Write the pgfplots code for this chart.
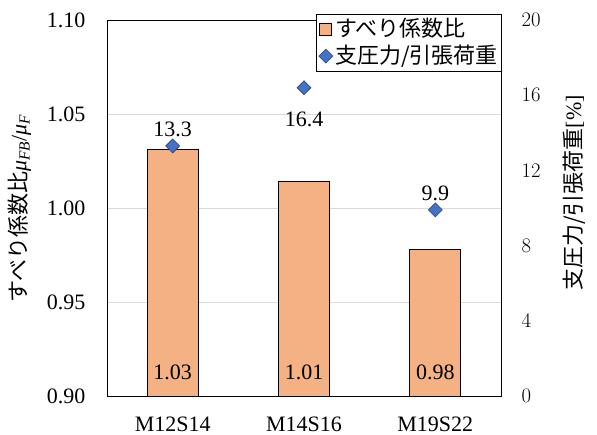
\documentclass[border=0pt]{standalone}
\usepackage{fontspec}
\setmainfont{Liberation Serif}
\newfontfamily\jp{Noto Sans CJK JP}
\usepackage{pgfplots}
\pgfplotsset{compat=1.18}
\definecolor{barfill}{RGB}{244,177,131}
\definecolor{dfill}{RGB}{68,114,196}
\definecolor{dline}{RGB}{38,68,120}
\newcommand{\fs}{\fontsize{22bp}{26bp}\selectfont}
\begin{document}
\fs
\begin{tikzpicture}
\useasboundingbox (0,0) rectangle (597bp,435bp);
\begin{axis}[
  at={(107bp,39bp)}, anchor=south west,
  width=394bp, height=376bp, scale only axis,
  xmin=-0.5, xmax=2.5, ymin=0.9, ymax=1.1,
  xtick={0,1,2}, xticklabels={M12S14,M14S16,M19S22},
  ytick={0.90,0.95,1.00,1.05,1.10},
  /pgf/number format/assume math mode=true,
  yticklabel={\pgfmathprintnumber[fixed,fixed zerofill,precision=2]{\tick}},
  ymajorgrids, grid style={black!15, line width=0.75bp},
  major tick length=0pt,
  axis line style={black, line width=0.9bp},
  tick label style={font=\fs},
  yticklabel style={xshift=-14bp},
  xticklabel style={yshift=-13bp},
  ylabel={{\jp すべり係数比}\textit{μ}\textsubscript{\textit{FB}}/\textit{μ}\textsubscript{\textit{F}}},
  ylabel style={at={(axis description cs:-0.222,0.5)}, anchor=center, font=\fs},
  clip=false,
]
\addplot[ybar, bar width=51bp, fill=barfill, draw=black, line width=0.75bp]
  coordinates {(0,1.031) (1,1.014) (2,0.978)};
\addplot[only marks, mark=none, nodes near coords, point meta=explicit symbolic,
  nodes near coords style={anchor=center, yshift=24bp, font=\fs}]
  coordinates {(0,0.9)[1.03] (1,0.9)[1.01] (2,0.9)[0.98]};
\end{axis}
\begin{axis}[
  at={(107bp,39bp)}, anchor=south west,
  width=394bp, height=376bp, scale only axis,
  xmin=-0.5, xmax=2.5, ymin=0, ymax=20,
  ytick={0,4,...,20},
  axis x line=none, axis y line*=right,
  major tick length=0pt,
  axis line style={black, line width=0.9bp},
  tick label style={font=\fs},
  yticklabel style={xshift=13bp},
  ylabel={{\jp 支圧力/引張荷重}[\%]},
  ylabel style={at={(axis description cs:1.185,0.54)}, anchor=center, font=\fs},
  clip=false,
  legend style={at={(axis description cs:1.003,1.016)}, anchor=north east,
    draw=black, line width=0.9bp, font=\fs, inner sep=2bp,
    row sep=1bp, cells={anchor=west}},
  legend cell align=left,
]
\addlegendimage{legend image code/.code={\draw[fill=barfill, draw=black, line width=0.75bp] (1bp,-6bp) rectangle (13bp,6bp);}}
\addlegendentry{\jp すべり係数比}
\addplot[only marks, mark=diamond*, mark size=7bp,
  mark options={xscale=1.33, fill=dfill, draw=dline, line width=0.6bp},
  legend image code/.code={\draw[fill=dfill, draw=dline, line width=0.6bp] (7bp,-7bp) -- (14bp,0bp) -- (7bp,7bp) -- (0bp,0bp) -- cycle;}]
  coordinates {(0,13.3) (1,16.4) (2,9.9)};
\addlegendentry{\jp 支圧力/引張荷重}
\addplot[only marks, mark=none, nodes near coords, point meta=explicit symbolic,
  nodes near coords style={anchor=center, yshift=17bp, font=\fs}, forget plot]
  coordinates {(0,13.3)[13.3] (2,9.9)[9.9]};
\addplot[only marks, mark=none, nodes near coords, point meta=explicit symbolic,
  nodes near coords style={anchor=center, yshift=-32bp, font=\fs}, forget plot]
  coordinates {(1,16.4)[16.4]};
\end{axis}
\end{tikzpicture}
\end{document}
